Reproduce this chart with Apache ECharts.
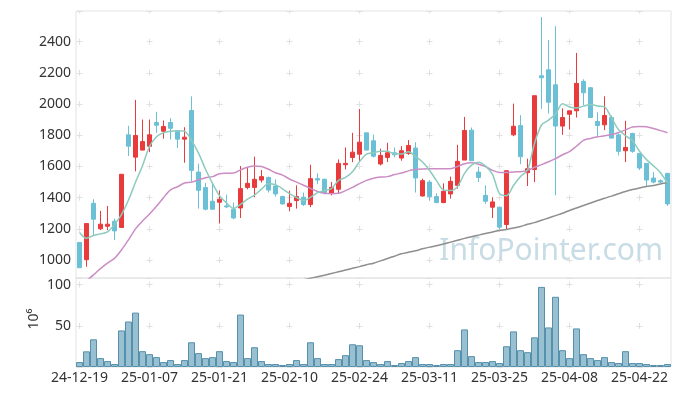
<!DOCTYPE html>
<html>
<head>
<meta charset="utf-8">
<script src="https://cdn.jsdelivr.net/npm/echarts@6.0.0/dist/echarts.min.js"></script>
<style>html,body{margin:0;padding:0;background:#fff}#c{width:680px;height:396px}</style>
</head>
<body>
<div id="c"></div>
<script>
const dates = ['24-12-19','24-12-20','24-12-23','24-12-24','24-12-26','24-12-27','24-12-30','25-01-02','25-01-03','25-01-06',
'25-01-07','25-01-08','25-01-09','25-01-10','25-01-13','25-01-14','25-01-15','25-01-16','25-01-17','25-01-20',
'25-01-21','25-01-22','25-01-23','25-01-24','25-01-31','25-02-03','25-02-04','25-02-05','25-02-06','25-02-07',
'25-02-10','25-02-11','25-02-12','25-02-13','25-02-14','25-02-17','25-02-18','25-02-19','25-02-20','25-02-21',
'25-02-24','25-02-25','25-02-26','25-02-27','25-02-28','25-03-04','25-03-05','25-03-06','25-03-07','25-03-10',
'25-03-11','25-03-12','25-03-13','25-03-14','25-03-17','25-03-18','25-03-19','25-03-20','25-03-21','25-03-24',
'25-03-25','25-03-26','25-03-27','25-03-28','25-03-31','25-04-01','25-04-02','25-04-03','25-04-04','25-04-07',
'25-04-08','25-04-09','25-04-10','25-04-11','25-04-14','25-04-15','25-04-16','25-04-17','25-04-18','25-04-21',
'25-04-22','25-04-23','25-04-24','25-04-25','25-04-28'];

const opens = [1113,1002,1364,1200,1217,1249,1209,1803,1660,1705,
1730,1882,1826,1882,1826,1775,1959,1564,1465,1377,
1371,1347,1326,1334,1466,1466,1513,1530,1475,1407,
1343,1381,1403,1356,1522,1518,1428,1454,1611,1658,
1679,1816,1765,1616,1658,1688,1654,1684,1718,1411,
1500,1407,1369,1424,1479,1641,1833,1564,1415,1339,
1339,1228,1803,1863,1560,1581,2182,2220,2124,1859,
1935,1957,2146,2105,1888,1867,1914,1803,1701,1812,
1684,1620,1526,1509,1556];

const closes = [951,1234,1262,1230,1230,1187,1550,1730,1799,1760,
1803,1865,1856,1845,1775,1788,1575,1447,1326,1326,
1390,1341,1270,1458,1492,1518,1535,1449,1424,1360,
1364,1407,1356,1522,1513,1433,1466,1620,1620,1692,
1756,1705,1666,1671,1688,1675,1701,1735,1526,1509,
1407,1369,1441,1505,1633,1831,1637,1530,1377,1373,
1211,1573,1858,1663,1586,2054,2169,2012,1859,1914,
1957,2133,2073,1914,1863,1927,1782,1697,1722,1697,
1590,1513,1500,1500,1360];

const lows = [950,957,1160,1192,1192,1128,1205,1667,1569,1705,
1692,1816,1778,1773,1718,1624,1505,1330,1319,1326,
1234,1334,1262,1270,1454,1403,1497,1433,1407,1356,
1313,1330,1347,1339,1488,1420,1415,1428,1581,1628,
1633,1705,1658,1607,1628,1658,1637,1675,1433,1407,
1381,1364,1364,1394,1458,1641,1637,1500,1360,1270,
1198,1198,1794,1615,1475,1500,1970,1939,1415,1803,
1837,1914,1993,1914,1794,1833,1782,1671,1628,1688,
1577,1475,1492,1492,1347];

const highs = [1115,1234,1390,1315,1347,1266,1550,1861,2027,1901,
1901,1950,1895,1910,1826,1852,2050,1618,1494,1494,
1447,1420,1369,1603,1590,1663,1577,1535,1518,1413,
1445,1479,1433,1611,1556,1522,1500,1645,1722,1816,
1969,1816,1805,1714,1752,1722,1730,1769,1756,1522,
1513,1428,1492,1535,1739,1918,1850,1599,1479,1403,
1343,1573,2003,1929,1650,2054,2559,2411,2500,1973,
1957,2328,2159,2110,1948,2050,1927,1812,1893,1816,
1684,1620,1564,1518,1556];

// volume, unit 10^6
const volumes = [6,19,33.6,10.8,7.2,3.6,44.4,55.2,66,19.2,
15.6,12,6,8.4,3.6,8.4,30,16.8,10.8,12,
19.2,7.2,6,63.6,10.8,24,7.2,3.6,3.6,2.4,
3.6,8.4,3.6,30,10.8,3.6,3.6,9.6,14.4,27.6,
26.4,8.4,6,3.6,7.2,2.4,4.8,7.2,12,3.6,
3.6,2.4,3.6,3.6,20.4,45.6,13.2,6,6,7.2,
4.8,25.2,43.2,20.4,18,36,97.2,48,85.2,20.4,
10.8,46.8,15.6,10.8,8.4,12,6,4.8,19.2,4.8,
4.8,3.6,2.4,2.4,3.6];

const ma5 = [1177,1140,1158,1168,1181,1229,1292,1385,1499,1605,
1728,1791,1817,1826,1829,1826,1768,1686,1582,1492,
1413,1366,1331,1357,1390,1416,1455,1490,1484,1457,
1426,1401,1382,1402,1432,1446,1458,1511,1530,1566,
1631,1679,1688,1698,1697,1681,1680,1694,1665,1629,
1576,1509,1450,1446,1471,1556,1609,1627,1602,1550,
1426,1413,1478,1536,1578,1747,1866,1897,1936,2002,
1982,1975,1987,1998,1988,1982,1912,1837,1798,1765,
1698,1644,1604,1560,1493];

const ma20 = [830,868,905,945,980,1011,1065,1130,1200,1250,
1295,1345,1400,1450,1470,1494,1500,1515,1528,1535,
1554,1557,1558,1578,1595,1603,1600,1582,1560,1545,
1520,1500,1480,1460,1440,1428,1426,1428,1445,1466,
1490,1511,1525,1532,1535,1548,1558,1572,1580,1584,
1586,1586,1586,1586,1600,1618,1624,1615,1600,1575,
1562,1562,1565,1567,1575,1595,1612,1630,1650,1675,
1695,1730,1767,1780,1790,1797,1805,1818,1835,1853,
1857,1855,1843,1830,1816];

const ma120 = [null,null,null,null,null,null,null,null,null,null,
null,null,null,null,null,null,null,null,null,null,
null,null,null,null,null,null,null,null,null,null,
850,862,873,884,893,903,914,925,936,947,
958,970,980,995,1010,1025,1040,1050,1060,1072,
1083,1092,1103,1115,1127,1139,1150,1160,1170,1180,
1189,1196,1205,1215,1230,1240,1255,1270,1285,1300,
1318,1334,1350,1366,1382,1396,1410,1425,1440,1452,
1462,1471,1478,1488,1495];

const priceTickStep = 200;
const volumeUnitLabel = '10\u2076';
const watermarkText = 'InfoPointer.com';

const candleData = dates.map((d, i) => [opens[i], closes[i], lows[i], highs[i]]);

const FONT = "'Noto Sans', 'DejaVu Sans', sans-serif";
const crossColor = '#e0e0e0';
const chart = echarts.init(document.getElementById('c'), null, {renderer: 'canvas'});

const option = {
  animation: false,
  backgroundColor: '#ffffff',
  textStyle: {fontFamily: FONT},
  grid: [
    {left: 76, top: 11, width: 595, height: 267, show: true, borderColor: '#e3e3e3', borderWidth: 1, backgroundColor: 'transparent'},
    {left: 76, top: 278, width: 595, height: 89, show: true, borderColor: '#e3e3e3', borderWidth: 1, backgroundColor: 'transparent'}
  ],
  xAxis: [
    {
      type: 'category', gridIndex: 0, data: dates, boundaryGap: true,
      axisLine: {show: false}, axisTick: {show: false}, axisLabel: {show: false},
      splitLine: {show: true, interval: 9, alignWithLabel: true,
        lineStyle: {color: crossColor, width: 1, type: [6, 25.19], dashOffset: 3.49}}
    },
    {
      type: 'category', gridIndex: 1, data: dates, boundaryGap: true,
      axisLine: {show: false}, axisTick: {show: false},
      axisLabel: {interval: 9, color: '#333', fontSize: 14, margin: 4, fontFamily: FONT},
      splitLine: {show: true, interval: 9, alignWithLabel: true,
        lineStyle: {color: crossColor, width: 1, type: [6, 35.2], dashOffset: 37.6}}
    }
  ],
  yAxis: [
    {
      type: 'value', gridIndex: 0, min: 885, max: 2597, splitNumber: 8, scale: true,
      axisLine: {show: false}, axisTick: {show: false},
      axisLabel: {color: '#333', fontSize: 14, margin: 5, fontFamily: FONT,
        formatter: v => (Math.abs(v % priceTickStep) < 1e-6 ? String(v) : '')},
      splitLine: {show: true, lineStyle: {color: crossColor, width: 1, type: [6, 64], dashOffset: 69.5}}
    },
    {
      type: 'value', gridIndex: 1, min: 0, max: 108, splitNumber: 2,
      axisLine: {show: false}, axisTick: {show: false},
      axisLabel: {color: '#333', fontSize: 14, margin: 5, fontFamily: FONT,
        formatter: v => (v === 50 || v === 100 ? String(v) : '')},
      splitLine: {show: true, lineStyle: {color: crossColor, width: 1, type: [6, 64], dashOffset: 69.5}}
    }
  ],
  series: [
    {
      name: 'price', type: 'candlestick', xAxisIndex: 0, yAxisIndex: 0,
      data: candleData, barWidth: 5,
      itemStyle: {color: '#e93a3c', color0: '#6cc0d5', borderColor: '#e93a3c', borderColor0: '#6cc0d5', borderWidth: 1}
    },
    {
      name: 'MA120', type: 'line', xAxisIndex: 0, yAxisIndex: 0, data: ma120,
      symbol: 'none', smooth: 0.3, clip: true, connectNulls: false,
      lineStyle: {color: '#8e8e8e', width: 1.5}
    },
    {
      name: 'MA20', type: 'line', xAxisIndex: 0, yAxisIndex: 0, data: ma20,
      symbol: 'none', smooth: 0.3, clip: true,
      lineStyle: {color: '#cc8cc4', width: 1.5}
    },
    {
      name: 'MA5', type: 'line', xAxisIndex: 0, yAxisIndex: 0, data: ma5,
      symbol: 'none', smooth: 0.3, clip: true,
      lineStyle: {color: '#8ccbbd', width: 1.5}
    },
    {
      name: 'volume', type: 'bar', xAxisIndex: 1, yAxisIndex: 1, data: volumes,
      barWidth: '100%', barCategoryGap: '0%',
      itemStyle: {color: '#98c0d1', borderColor: '#5590ad', borderWidth: 1}
    }
  ],
  graphic: [
    {
      type: 'text', right: 17, top: 236, z: 1, silent: true,
      style: {text: watermarkText, fill: '#c8dce5', font: "normal 30px 'Noto Sans', sans-serif"}
    },
    {
      type: 'text', x: 34, y: 319, rotation: Math.PI / 2, silent: true,
      style: {text: volumeUnitLabel, fill: '#333', font: "normal 14px 'Noto Sans', sans-serif", align: 'center', verticalAlign: 'middle'}
    }
  ]
};
chart.setOption(option);
</script>
</body>
</html>
